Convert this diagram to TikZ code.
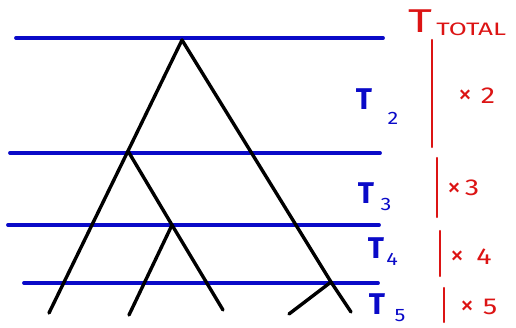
\documentclass[tikz,border=0pt]{standalone}
\usepackage{fontspec}
\setmainfont{Fira Sans}
\begin{document}
\begin{tikzpicture}[x=1pt,y=-1pt,
  epoch/.style={draw={rgb,255:red,10;green,10;blue,200}, line width=3.8pt, line cap=round},
  branch/.style={draw=black, line width=3.4pt, line cap=round},
  bracket/.style={draw={rgb,255:red,220;green,20;blue,20}, line width=2.2pt, line cap=round},
  tlab/.style={text={rgb,255:red,10;green,10;blue,200}, font=\bfseries\fontsize{30}{30}\selectfont, inner sep=0pt},
  sublab/.style={text={rgb,255:red,10;green,10;blue,200}, font=\fontsize{18}{18}\selectfont, inner sep=0pt, xscale=1.2},
  multx/.style={text={rgb,255:red,220;green,20;blue,20}, font=\fontsize{28}{28}\selectfont, inner sep=0pt},
  mult/.style={text={rgb,255:red,220;green,20;blue,20}, font=\fontsize{23}{23}\selectfont, inner sep=0pt, xscale=1.25}
]
\useasboundingbox (0,0) rectangle (516,328);
% epoch lines
\coordinate (e1a) at (16,38);  \coordinate (e1b) at (383,38);
\coordinate (e2a) at (10,153); \coordinate (e2b) at (380,153);
\coordinate (e3a) at (8,225);  \coordinate (e3b) at (379,225);
\coordinate (e4a) at (24,283); \coordinate (e4b) at (378,283);
\draw[epoch] (e1a) -- (e1b);
\draw[epoch] (e2a) -- (e2b);
\draw[epoch] (e3a) -- (e3b);
\draw[epoch] (e4a) -- (e4b);
% tree
\coordinate (root) at (182,40);
\coordinate (n2) at (128,151);
\coordinate (n3) at (172,225);
\coordinate (n4) at (331,282);
\coordinate (l1) at (49,313);
\coordinate (l2) at (129,315);
\coordinate (l3) at (223,310);
\coordinate (l4) at (289,314);
\coordinate (l5) at (351,312);
\draw[branch] (root) -- (n2) -- (l1);
\draw[branch] (n2) -- (n3) -- (l3);
\draw[branch] (n3) -- (l2);
\draw[branch] (root) -- (n4) -- (l5);
\draw[branch] (n4) -- (l4);
% blue labels
\node[tlab] (t2) at (364,99) {T};
\node[sublab] (s2) at (393,118) {2};
\node[tlab] (t3) at (366,193) {T};
\node[sublab] (s3) at (386,204) {3};
\node[tlab] (t4) at (376,248) {T};
\node[sublab] (s4) at (392,259) {4};
\node[tlab] (t5) at (377,304) {T};
\node[sublab] (s5) at (400,316) {5};
% red
\node[text={rgb,255:red,220;green,20;blue,20}, font=\fontsize{33}{33}\selectfont, inner sep=0pt, xscale=1.4] (tt) at (420,21) {T};
\node[text={rgb,255:red,220;green,20;blue,20}, font=\fontsize{18}{18}\selectfont, inner sep=0pt, anchor=west, xscale=1.45] (total) at (436,29) {TOTAL};
\coordinate (r1a) at (432,40);  \coordinate (r1b) at (432,147);
\coordinate (r2a) at (437,158); \coordinate (r2b) at (437,217);
\coordinate (r3a) at (440,231); \coordinate (r3b) at (440,276);
\coordinate (r4a) at (444,288); \coordinate (r4b) at (444,322);
\draw[bracket] (r1a) -- (r1b);
\draw[bracket] (r2a) -- (r2b);
\draw[bracket] (r3a) -- (r3b);
\draw[bracket] (r4a) -- (r4b);
\node[multx] (x2) at (465,97) {×};
\node[mult] (m2) at (488,96) {2};
\node[multx] (x3) at (454,190) {×};
\node[mult] (m3) at (472,188) {3};
\node[multx] (x4) at (457,258) {×};
\node[mult] (m4) at (484,257) {4};
\node[multx] (x5) at (467,308) {×};
\node[mult] (m5) at (490,307) {5};
\end{tikzpicture}
\end{document}
